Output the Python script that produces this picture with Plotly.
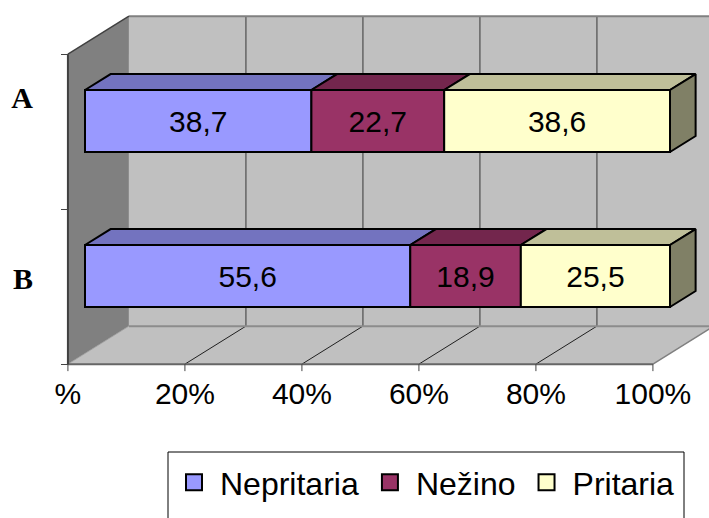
import plotly.graph_objects as go

# ---- data -------------------------------------------------------------
categories = ["A", "B"]
series_names = ["Nepritaria", "Nežino", "Pritaria"]
values_A = [38.7, 22.7, 38.6]
values_B = [55.6, 18.9, 25.5]
front_colors = ["#9999FF", "#993366", "#FFFFCC"]
top_colors = ["#7373BF", "#73264D", "#BFBF99"]
side_color = "#808066"
tick_values = [0, 20, 40, 60, 80, 100]
tick_labels = ["%", "20%", "40%", "60%", "80%", "100%"]

# ---- oblique 3-D projection (pixels) ---------------------------------
W, H = 709, 518
PX_PER_PCT = 5.85          # horizontal pixels per percent
PX_PER_CAT = 155.0         # vertical pixels per category
DEPTH_DX, DEPTH_DY = 61.0, -38.0   # screen offset of the full box depth
BAR_D0, BAR_D1 = 0.28, 0.70        # bar front / back depth (0 = front, 1 = back wall)
ORIGIN_X, ORIGIN_Y = 85.0, 121.0   # pixel of (0 %, first category) on the bar front plane
BAR_WIDTH = 0.4
TICK_PX = 7

FONT = "Arial, Liberation Sans, sans-serif"
SERIF = "Times New Roman, Liberation Serif, serif"

rows = [values_A, values_B]
n_cat = len(categories)
c_top, c_bot = -0.5, n_cat - 0.5
p_max = tick_values[-1]


def proj(p, c, d):
    """World point (percent, category, depth) -> main axis coordinates."""
    return (p + DEPTH_DX * (d - BAR_D0) / PX_PER_PCT,
            c + DEPTH_DY * (d - BAR_D0) / PX_PER_CAT)


def path(points, close=True):
    xy = [proj(*pt) for pt in points]
    s = "M " + " L ".join(f"{x:.4f},{y:.4f}" for x, y in xy)
    return s + (" Z" if close else "")


shapes = []


def add_poly(points, fill, line_color=None, line_width=0):
    shapes.append(dict(type="path", path=path(points), xref="x", yref="y",
                       fillcolor=fill, layer="below",
                       line=dict(color=line_color or fill, width=line_width)))


def add_line(a, b, color, width):
    shapes.append(dict(type="path", path=path([a, b], close=False), xref="x", yref="y",
                       layer="below", line=dict(color=color, width=width)))


# walls and floor
add_poly([(0, c_top, 0), (0, c_top, 1), (0, c_bot, 1), (0, c_bot, 0)], "#808080")
add_poly([(0, c_top, 1), (p_max, c_top, 1), (p_max, c_bot, 1), (0, c_bot, 1)], "#C0C0C0")
add_poly([(0, c_bot, 0), (p_max, c_bot, 0), (p_max, c_bot, 1), (0, c_bot, 1)], "#C0C0C0")

# grid on the back wall and on the floor
for p in tick_values[1:]:
    add_line((p, c_top, 1), (p, c_bot, 1), "#555555", 1.3)
for p in tick_values[1:-1]:
    add_line((p, c_bot, 0), (p, c_bot, 1), "#202020", 1)

# box edges
add_line((0, c_top, 1), (p_max, c_top, 1), "#808080", 2)
add_line((0, c_bot, 1), (p_max, c_bot, 1), "#8C8C8C", 2)
add_line((0, c_bot, 0), (0, c_bot, 1), "#A0A0A0", 1)
add_line((p_max, c_bot, 0), (p_max, c_bot, 1), "#808080", 1.5)
add_line((0, c_bot, 0), (p_max, c_bot, 0), "#666666", 2)
add_line((0, c_top, 0), (0, c_top, 1), "#404040", 1.5)
add_line((0, c_top, 0), (0, c_bot, 0), "#404040", 2)

# tick marks under the front edge of the floor
for p in tick_values:
    add_line((p, c_bot, 0), (p, c_bot + TICK_PX / PX_PER_CAT, 0), "#444444", 1)

fig = go.Figure()

# bar front faces
y_pos = list(range(n_cat))
bases = [[0.0] * n_cat]
for i in range(len(series_names)):
    vals = [row[i] for row in rows]
    fig.add_trace(go.Bar(
        x=vals, y=y_pos, base=bases[-1], orientation="h", width=BAR_WIDTH,
        marker=dict(color=front_colors[i], line=dict(color="black", width=2)),
        text=[f"{v:.1f}".replace(".", ",") for v in vals],
        textposition="inside", insidetextanchor="middle", textangle=0,
        textfont=dict(family=FONT, size=30, color="black"),
        showlegend=False, hoverinfo="skip"))
    bases.append([b + v for b, v in zip(bases[-1], vals)])

# bar top faces and end caps
for i in range(len(series_names)):
    for k in range(n_cat):
        b0, b1 = bases[i][k], bases[i + 1][k]
        ct = k - BAR_WIDTH / 2
        pts = [(b0, ct, BAR_D0), (b1, ct, BAR_D0), (b1, ct, BAR_D1), (b0, ct, BAR_D1), (b0, ct, BAR_D0)]
        xy = [proj(*pt) for pt in pts]
        fig.add_trace(go.Scatter(
            x=[q[0] for q in xy], y=[q[1] for q in xy], mode="lines", fill="toself",
            fillcolor=top_colors[i], line=dict(color="black", width=2),
            showlegend=False, hoverinfo="skip"))
for k in range(n_cat):
    end = bases[-1][k]
    ct, cb = k - BAR_WIDTH / 2, k + BAR_WIDTH / 2
    pts = [(end, ct, BAR_D0), (end, ct, BAR_D1), (end, cb, BAR_D1), (end, cb, BAR_D0), (end, ct, BAR_D0)]
    xy = [proj(*pt) for pt in pts]
    fig.add_trace(go.Scatter(
        x=[q[0] for q in xy], y=[q[1] for q in xy], mode="lines", fill="toself",
        fillcolor=side_color, line=dict(color="black", width=2),
        showlegend=False, hoverinfo="skip"))

# legend entries
for i, name in enumerate(series_names):
    fig.add_trace(go.Scatter(
        x=[None], y=[None], mode="markers", name=name,
        marker=dict(symbol="square", size=16, color=front_colors[i],
                    line=dict(color="black", width=2))))

# helper traces so the front-plane axes are drawn
fig.add_trace(go.Scatter(x=[None], y=[None], xaxis="x2", yaxis="y2", showlegend=False))
fig.add_trace(go.Scatter(x=[None], y=[None], xaxis="x", yaxis="y3", showlegend=False))

# front plane (depth 0) origin in pixels
fx0 = ORIGIN_X - DEPTH_DX * BAR_D0
fy0 = ORIGIN_Y - DEPTH_DY * BAR_D0
floor_py = fy0 + PX_PER_CAT * c_bot

fig.update_layout(
    width=W, height=H, margin=dict(l=0, r=0, t=0, b=0),
    paper_bgcolor="white", plot_bgcolor="rgba(0,0,0,0)",
    barmode="overlay", shapes=shapes,
    xaxis=dict(range=[-ORIGIN_X / PX_PER_PCT, (W - ORIGIN_X) / PX_PER_PCT],
               visible=False, fixedrange=True),
    yaxis=dict(range=[(H - ORIGIN_Y) / PX_PER_CAT, -ORIGIN_Y / PX_PER_CAT],
               visible=False, fixedrange=True),
    xaxis2=dict(overlaying="x", anchor="free", position=1 - floor_py / H,
                range=[-fx0 / PX_PER_PCT, (W - fx0) / PX_PER_PCT],
                tickmode="array", tickvals=tick_values, ticktext=tick_labels,
                ticks="", showline=False, showgrid=False, zeroline=False,
                ticklabelstandoff=9,
                tickfont=dict(family=FONT, size=30, color="black")),
    yaxis2=dict(overlaying="y", anchor="free", position=fx0 / W,
                range=[(H - fy0) / PX_PER_CAT, -fy0 / PX_PER_CAT],
                tickmode="array", tickvals=[c_top + j for j in range(n_cat + 1)],
                showticklabels=False, ticks="outside", ticklen=7, tickwidth=1,
                tickcolor="#444444", showline=False, showgrid=False, zeroline=False),
    yaxis3=dict(overlaying="y", anchor="free", position=33 / W,
                range=[(H - 97) / 181, -97 / 181],
                tickmode="array", tickvals=y_pos, ticktext=categories,
                ticks="", showline=False, showgrid=False, zeroline=False,
                tickfont=dict(family=SERIF, size=30, color="black", weight="bold")),
    legend=dict(orientation="h", x=168 / W, y=1 - 455 / H, xanchor="left", yanchor="top",
                bgcolor="rgba(0,0,0,0)", borderwidth=0, itemwidth=42,
                font=dict(family=FONT, size=32, color="black")),
)

# legend frame runs past the bottom edge
fig.add_shape(type="rect", xref="paper", yref="paper",
              x0=168 / W, x1=684 / W, y0=-0.05, y1=1 - 452 / H,
              line=dict(color="black", width=1), fillcolor="rgba(0,0,0,0)", layer="above")

fig.write_html("out.html")
